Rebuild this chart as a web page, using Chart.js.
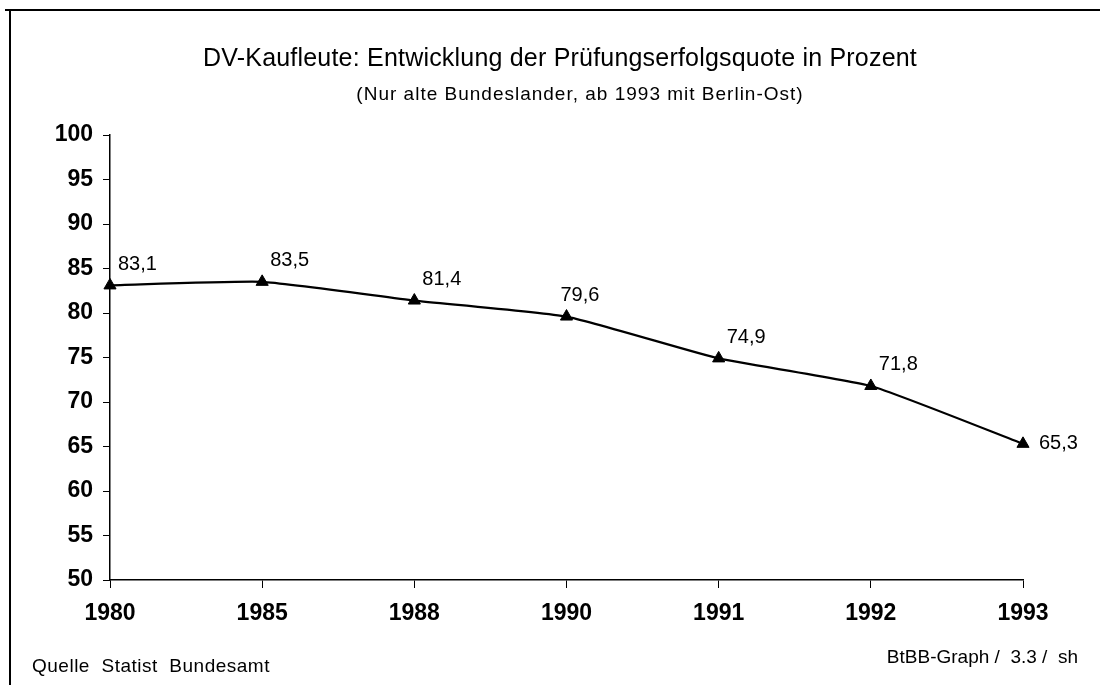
<!DOCTYPE html>
<html>
<head>
<meta charset="utf-8">
<title>DV-Kaufleute Prüfungserfolgsquote</title>
<script src="https://cdn.jsdelivr.net/npm/chart.js@4/dist/chart.umd.min.js"></script>
<style>
  html, body { margin:0; padding:0; background:#fff; }
  #wrap { width:1102px; height:685px; }
</style>
</head>
<body>
<div id="wrap"><canvas id="chart" width="1102" height="685"></canvas></div>
<script>
// data
var years = ['1980', '1985', '1988', '1990', '1991', '1992', '1993'];
var quote = [83.1, 83.5, 81.4, 79.6, 74.9, 71.8, 65.3];
var yTicks = [50, 55, 60, 65, 70, 75, 80, 85, 90, 95, 100];

var titleText = 'DV-Kaufleute: Entwicklung der Prüfungserfolgsquote in Prozent';
var subtitleText = '(Nur alte Bundeslander, ab 1993 mit Berlin-Ost)';
var sourceText = 'Quelle  Statist  Bundesamt';
var creditText = 'BtBB-Graph /  3.3 /  sh';

var FONT = '"Liberation Sans", Arial, sans-serif';

function fmt(v){
  return v.toFixed(1).replace('.', ',');
}

// title, frame, footer and point labels
var decoPlugin = {
  id: 'deco',
  afterDraw: function(chart){
    var ctx = chart.ctx;
    ctx.save();
    // frame of the scanned page
    ctx.strokeStyle = '#000';
    ctx.lineWidth = 2;
    ctx.beginPath();
    ctx.moveTo(5, 10); ctx.lineTo(1100, 10);
    ctx.moveTo(10, 10); ctx.lineTo(10, 685);
    ctx.stroke();

    ctx.fillStyle = '#000';
    ctx.textAlign = 'center';
    ctx.textBaseline = 'middle';
    ctx.font = '25px ' + FONT;
    ctx.letterSpacing = '0.2px';
    ctx.fillText(titleText, 560, 59);
    ctx.font = '19px ' + FONT;
    ctx.letterSpacing = '1px';
    ctx.fillText(subtitleText, 580, 95);

    ctx.font = '19px ' + FONT;
    ctx.letterSpacing = '0.5px';
    ctx.textAlign = 'left';
    ctx.fillText(sourceText, 32, 667);
    ctx.letterSpacing = '0px';
    ctx.textAlign = 'right';
    ctx.fillText(creditText, 1078, 658);

    // value labels next to points
    var meta = chart.getDatasetMeta(0);
    ctx.font = '20px ' + FONT;
    meta.data.forEach(function(pt, i){
      var last = (i == meta.data.length - 1);
      ctx.textAlign = 'left';
      if(last){
        ctx.fillText(fmt(quote[i]), pt.x + 16, pt.y);
      }else if(i == 3){
        ctx.fillText(fmt(quote[i]), pt.x - 6, pt.y - 21);
      }else{
        ctx.fillText(fmt(quote[i]), pt.x + 8, pt.y - 21);
      }
    });
    ctx.restore();
  }
};

var ctx = document.getElementById('chart').getContext('2d');
var chart = new Chart(ctx, {
  type: 'line',
  data: {
    labels: years,
    datasets: [{
      label: 'Prüfungserfolgsquote',
      data: quote,
      borderColor: '#000',
      backgroundColor: '#000',
      borderWidth: 2.2,
      tension: 0.15,
      pointStyle: 'triangle',
      pointRadius: 7,
      pointBackgroundColor: '#000',
      pointBorderColor: '#000',
      pointBorderWidth: 1
    }]
  },
  options: {
    responsive: false,
    animation: false,
    devicePixelRatio: 1,
    layout: { padding: { left: 0, right: 79, top: 135, bottom: 55 } },
    plugins: {
      legend: { display: false },
      tooltip: { enabled: false },
      title: { display: false }
    },
    scales: {
      x: {
        offset: false,
        afterFit: function(scale){ scale.height = 50; },
        border: { color: '#000', width: 1.5 },
        grid: { drawOnChartArea: false, drawTicks: true, tickLength: 8, color: '#000' },
        ticks: {
          color: '#000',
          padding: 12,
          maxRotation: 0,
          font: { family: FONT, size: 23, weight: 'bold' }
        }
      },
      y: {
        min: 50,
        max: 100,
        afterFit: function(scale){ scale.width = 110; },
        afterBuildTicks: function(scale){
          scale.ticks = yTicks.map(function(v){ return { value: v }; });
        },
        border: { color: '#000', width: 1.5 },
        grid: { drawOnChartArea: false, drawTicks: true, tickLength: 7, color: '#000' },
        ticks: {
          color: '#000',
          padding: 10,
          font: { family: FONT, size: 23, weight: 'bold' }
        }
      }
    }
  },
  plugins: [decoPlugin]
});
</script>
</body>
</html>
